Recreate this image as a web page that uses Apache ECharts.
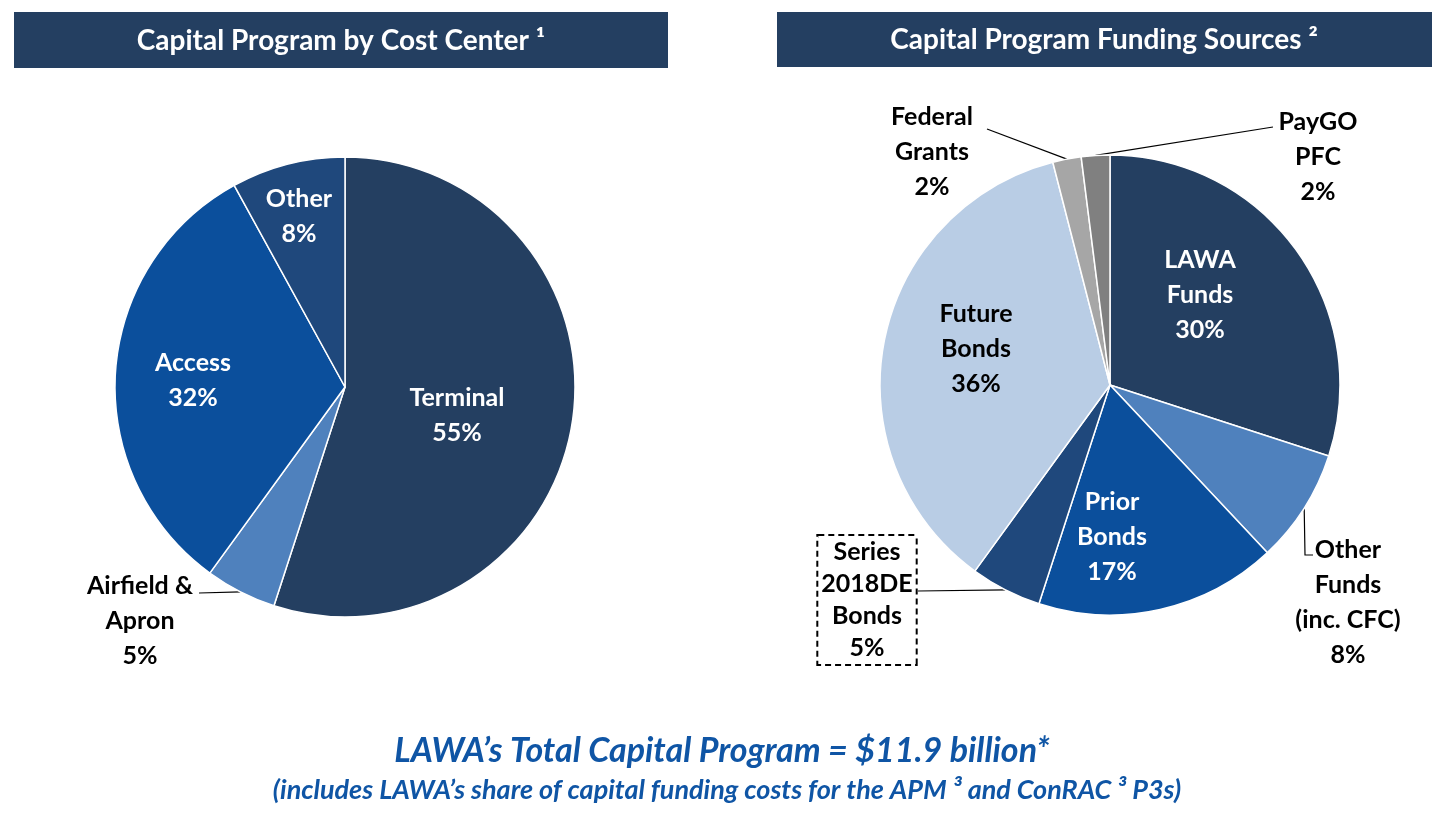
<!DOCTYPE html>
<html>
<head>
<meta charset="utf-8">
<script src="https://cdn.jsdelivr.net/npm/echarts@6/dist/echarts.min.js"></script>
<style>
  html, body { margin: 0; padding: 0; background: #fff; }
  #chart { width: 1446px; height: 827px; }
</style>
</head>
<body>
<div id="chart"></div>
<script>
// data (percent of program)
var costCenters = ['Terminal', 'Airfield &\nApron', 'Access', 'Other'];
var costShares = [55, 5, 32, 8];

var fundingSources = ['LAWA\nFunds', 'Other\nFunds\n(inc. CFC)', 'Prior\nBonds', 'Series\n2018DE\nBonds', 'Future\nBonds', 'Federal\nGrants', 'PayGO\nPFC'];
var fundingShares = [30, 8, 17, 5, 36, 2, 2];

var titles = ['Capital Program by Cost Center \u00b9', 'Capital Program Funding Sources \u00b2'];
var footer = 'LAWA\u2019s Total Capital Program = $11.9 billion*';
var footnote = '(includes LAWA\u2019s share of capital funding costs for the APM \u00b3 and ConRAC \u00b3 P3s)';

// styling / layout
var FONT = 'Lato';
var NAVY = '#243f61';
var leftCenter = [345, 387];
var rightCenter = [1110, 385];
var R = 230;

var leftColors = [NAVY, '#4f81bd', '#0b4f9c', '#1f487c'];
var rightColors = [NAVY, '#4f81bd', '#0b4f9c', '#1f487c', '#b9cde5', '#a6a6a6', '#808080'];
var leftInside = [true, false, true, true];
var rightInside = [true, false, true, false, true, false, false];
var rightLabelColors = ['#fff', '#000', '#fff', '#000', '#000', '#000', '#000'];

// label centres relative to pie centre
var leftLabelPos = [[112, 28], [-205, 234], [-152, -7], [-46, -171]];
var rightLabelPos = [[90, -90], [238, 217], [2, 152], [-243, 215], [-134, -36], [-178, -233], [208, -228]];
// guide line points after the slice edge, relative to pie centre
var leftLines = [null, [[-146, 206]], null, null];
var rightLines = [null, [[195, 170], [203, 170]], null, [[-192, 206]], null, [[-123, -256]], [[163, -258]]];

function buildData(names, values, colors, inside, labelColors) {
  return names.map(function (n, i) {
    return {
      name: n,
      value: values[i],
      itemStyle: { color: colors[i] },
      label: {
        position: inside[i] ? 'inside' : 'outside',
        color: labelColors ? labelColors[i] : (inside[i] ? '#fff' : '#000')
      },
      labelLine: { show: !inside[i] }
    };
  });
}

function makeLayout(center, pos, lines) {
  return function (params) {
    var i = params.dataIndex;
    var out = {
      x: center[0] + pos[i][0],
      y: center[1] + pos[i][1],
      align: 'center',
      verticalAlign: 'middle'
    };
    if (lines[i] && params.labelLinePoints) {
      var pts = [params.labelLinePoints[0].slice()];
      lines[i].forEach(function (p) {
        pts.push([center[0] + p[0], center[1] + p[1]]);
      });
      out.labelLinePoints = pts;
    }
    return out;
  };
}

function pieSeries(center, data, layout) {
  return {
    type: 'pie',
    center: center,
    radius: [0, R],
    startAngle: 90,
    clockwise: true,
    avoidLabelOverlap: false,
    animation: false,
    itemStyle: { borderColor: '#fff', borderWidth: 1.5 },
    label: {
      show: true,
      fontFamily: FONT,
      fontWeight: 'bold',
      fontSize: 25,
      lineHeight: 35,
      formatter: '{b}\n{c}%'
    },
    labelLine: {
      show: true,
      lineStyle: { color: '#000', width: 1.2 }
    },
    emphasis: { disabled: true },
    labelLayout: layout,
    data: data
  };
}

var rightData = buildData(fundingSources, fundingShares, rightColors, rightInside, rightLabelColors);
rightData[3].label.borderColor = '#000';
rightData[3].label.borderWidth = 2;
rightData[3].label.borderType = [6, 4];
rightData[3].label.backgroundColor = '#fff';
rightData[3].label.padding = [0, 3, 0, 3];
rightData[3].label.lineHeight = 32;

var chart = echarts.init(document.getElementById('chart'), null, { renderer: 'canvas' });

var option = {
  backgroundColor: '#fff',
  tooltip: { show: false },
  graphic: [
    { type: 'rect', shape: { x: 14, y: 12, width: 654, height: 56 }, style: { fill: NAVY } },
    { type: 'rect', shape: { x: 777, y: 12, width: 655, height: 55 }, style: { fill: NAVY } },
    {
      type: 'text', x: 341, y: 41,
      style: { text: titles[0], fill: '#fff', font: 'bold 28px ' + FONT, align: 'center', verticalAlign: 'middle' }
    },
    {
      type: 'text', x: 1104, y: 40,
      style: { text: titles[1], fill: '#fff', font: 'bold 28px ' + FONT, align: 'center', verticalAlign: 'middle' }
    },
    {
      type: 'text', x: 722, y: 751,
      style: { text: footer, fill: '#0f55a5', font: 'italic bold 34px ' + FONT, align: 'center', verticalAlign: 'middle' }
    },
    {
      type: 'text', x: 727, y: 790,
      style: { text: footnote, fill: '#0f55a5', font: 'italic bold 27px ' + FONT, align: 'center', verticalAlign: 'middle' }
    }
  ],
  series: [
    pieSeries(leftCenter, buildData(costCenters, costShares, leftColors, leftInside), makeLayout(leftCenter, leftLabelPos, leftLines)),
    pieSeries(rightCenter, rightData, makeLayout(rightCenter, rightLabelPos, rightLines))
  ]
};

chart.setOption(option);
</script>
</body>
</html>
